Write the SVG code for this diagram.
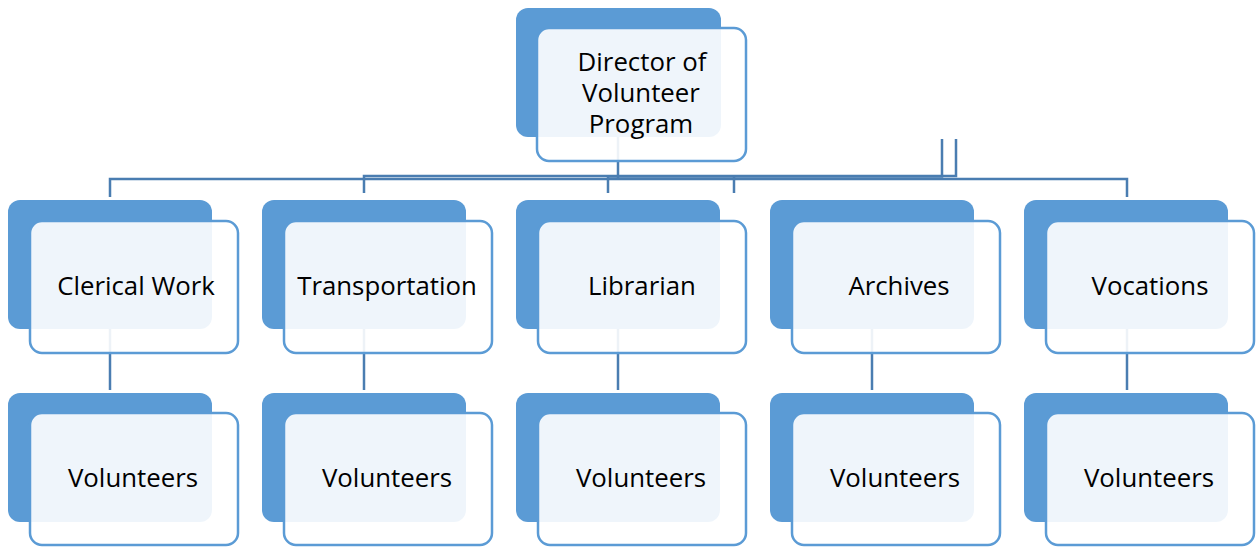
<svg xmlns="http://www.w3.org/2000/svg" width="1259" height="550" viewBox="0 0 1259 550">
<style>
.back{fill:#5B9BD5;}
.front{fill:#FFFFFF;fill-opacity:0.9;stroke:#5B9BD5;stroke-width:2.5;}
.conn{fill:none;stroke:#4A7DB1;stroke-width:2.5;}
text{font-family:"Open Sans","Noto Sans","Liberation Sans",sans-serif;font-size:25.8px;fill:#000;text-anchor:middle;}
</style>
<rect width="1259" height="550" fill="#FFFFFF"/>
<g id="connectors">
<path class="conn" d="M110,197 V179 H1127 V197"/>
<path class="conn" d="M618,137 V179"/>
<path class="conn" d="M364,193 V176 H956 V139"/>
<path class="conn" d="M608,193 V176.5 H942 V139"/>
<path class="conn" d="M734,193 V176.5"/>
<path class="conn" d="M110,328 V390"/>
<path class="conn" d="M364,328 V390"/>
<path class="conn" d="M618,328 V390"/>
<path class="conn" d="M872,328 V390"/>
<path class="conn" d="M1127,328 V390"/>
</g>
<g id="director">
<rect class="back" x="516" y="8" width="205" height="129" rx="12"/>
<rect class="front" x="537" y="28" width="209" height="133" rx="12"/>
<text x="642" y="71">Director of</text>
<text x="641" y="102">Volunteer</text>
<text x="641" y="133">Program</text>
</g>
<g id="clerical">
<rect class="back" x="8" y="200" width="204" height="129" rx="12"/>
<rect class="front" x="30" y="221" width="208" height="132" rx="12"/>
<text x="136" y="295">Clerical Work</text>
</g>
<g id="transportation">
<rect class="back" x="262" y="200" width="204" height="129" rx="12"/>
<rect class="front" x="284" y="221" width="208" height="132" rx="12"/>
<text x="387" y="295">Transportation</text>
</g>
<g id="librarian">
<rect class="back" x="516" y="200" width="204" height="129" rx="12"/>
<rect class="front" x="538" y="221" width="208" height="132" rx="12"/>
<text x="642" y="295">Librarian</text>
</g>
<g id="archives">
<rect class="back" x="770" y="200" width="204" height="129" rx="12"/>
<rect class="front" x="792" y="221" width="208" height="132" rx="12"/>
<text x="899" y="295">Archives</text>
</g>
<g id="vocations">
<rect class="back" x="1024" y="200" width="204" height="129" rx="12"/>
<rect class="front" x="1046" y="221" width="208" height="132" rx="12"/>
<text x="1150" y="295">Vocations</text>
</g>
<g id="volunteers1">
<rect class="back" x="8" y="393" width="204" height="129" rx="12"/>
<rect class="front" x="30" y="413" width="208" height="132" rx="12"/>
<text x="133" y="487">Volunteers</text>
</g>
<g id="volunteers2">
<rect class="back" x="262" y="393" width="204" height="129" rx="12"/>
<rect class="front" x="284" y="413" width="208" height="132" rx="12"/>
<text x="387" y="487">Volunteers</text>
</g>
<g id="volunteers3">
<rect class="back" x="516" y="393" width="204" height="129" rx="12"/>
<rect class="front" x="538" y="413" width="208" height="132" rx="12"/>
<text x="641" y="487">Volunteers</text>
</g>
<g id="volunteers4">
<rect class="back" x="770" y="393" width="204" height="129" rx="12"/>
<rect class="front" x="792" y="413" width="208" height="132" rx="12"/>
<text x="895" y="487">Volunteers</text>
</g>
<g id="volunteers5">
<rect class="back" x="1024" y="393" width="204" height="129" rx="12"/>
<rect class="front" x="1046" y="413" width="208" height="132" rx="12"/>
<text x="1149" y="487">Volunteers</text>
</g>
</svg>
